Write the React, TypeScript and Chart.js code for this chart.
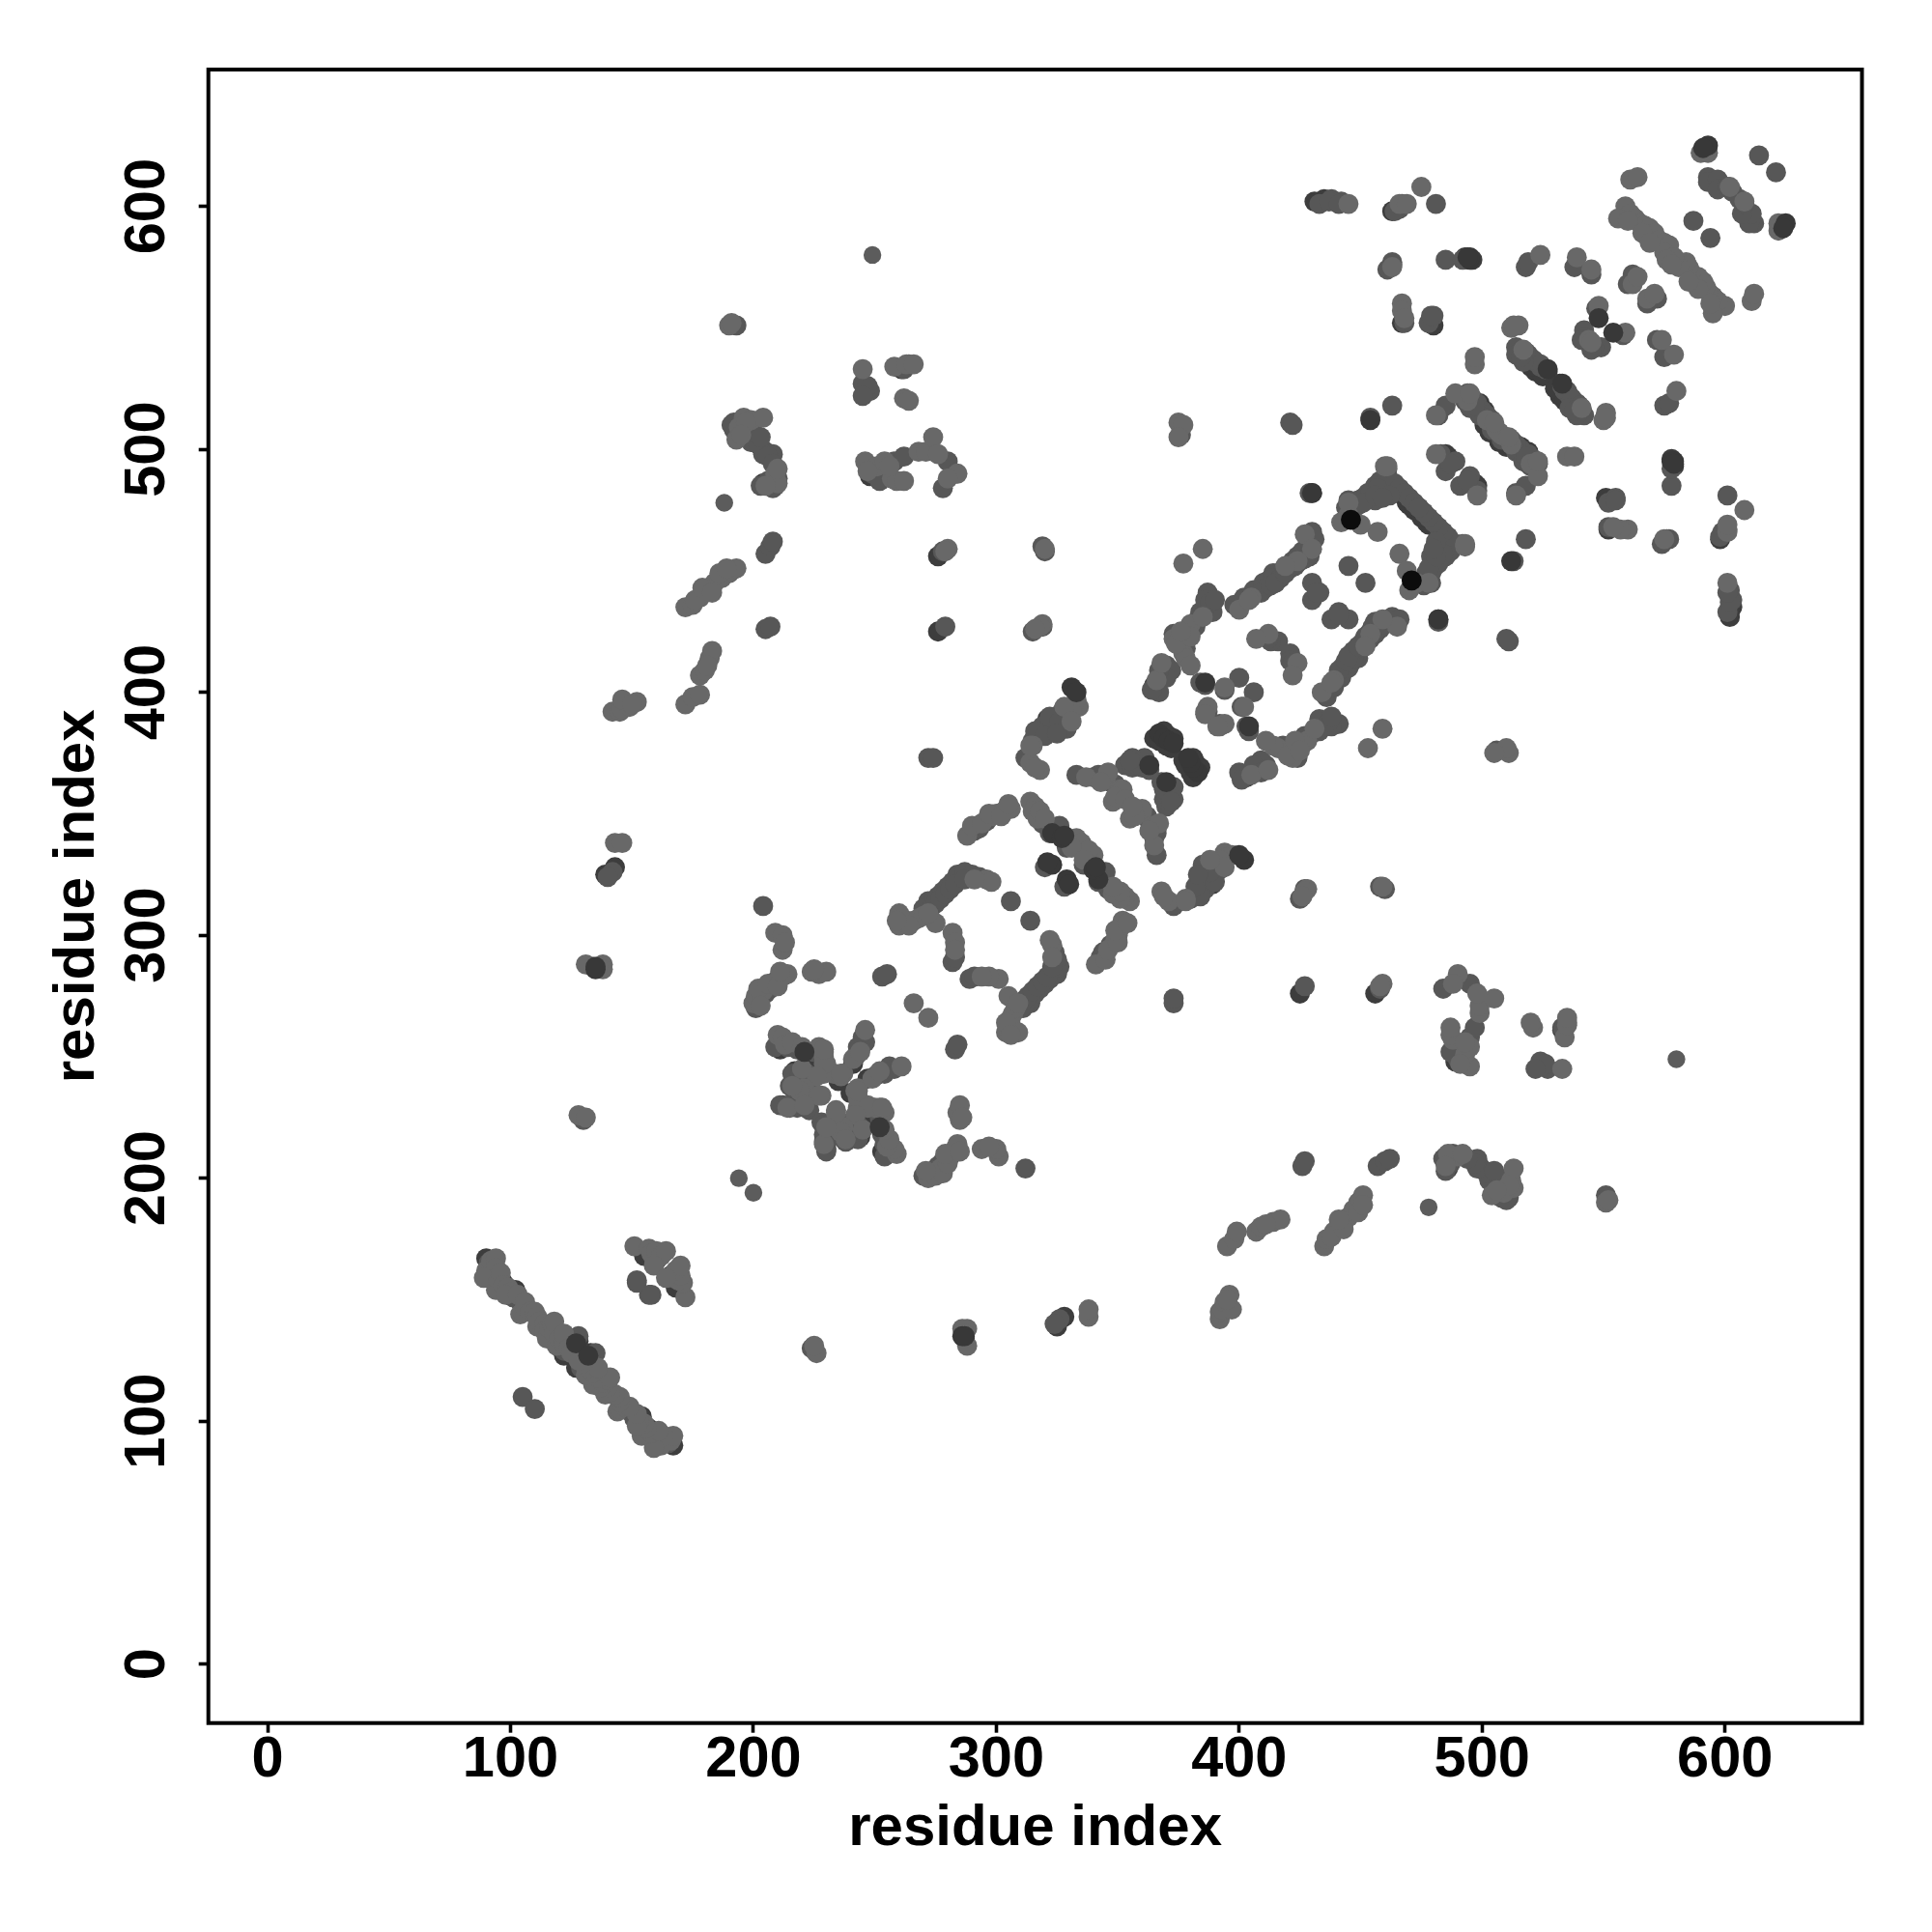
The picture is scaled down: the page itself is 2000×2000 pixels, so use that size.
import React, { useEffect, useRef } from "react";
import { Chart, registerables } from "chart.js";

Chart.register(...registerables);

const tickValues = [0, 100, 200, 300, 400, 500, 600];
const axisTitle = "residue index";

// Residue contacts [i, j]; the map is symmetric.
const darkBelow: number[][] = [
  [90,167],[122,127],[105,148],[102,154],[97,157],[128,133],[155,168],[160,166],[160,167],
  [223,248],[212,230],[222,234],[241,247],[235,240],[217,244],[211,253],[134,287],[143,328],[139,325],
  [204,486],[200,503],[203,501],[246,526],[248,489],[261,533],[276,425],[276,456],[365,403],[368,406],
  [321,389],[324,387],[327,385],[431,602],[435,603],[463,598],[463,576],[493,579],[496,578],[467,552],[480,551],
  [526,533],[527,532],[526,532],[499,519],[501,516],[485,498],[486,497],[494,519],[498,516],[501,510],[503,507],
  [462,485],[465,483],[469,478],[470,477],[472,475],[468,481],[466,482],[522,532],[525,530],[520,534],
  [365,381],[367,380],[369,384],[371,382],[373,381],[372,377],[370,378]
];

const mid: number[][] = [
  [91,165],[93,160],[101,151],[104,149],[105,110],[122,129],[128,135],[125,133],[157,152],[152,158],[159,167],
  [130,224],[142,326],[140,324],[193,551],[192,511],[195,509],[198,506],[201,504],[205,499],[208,498],[207,485],[210,488],[205,457],[207,460],[208,462],
  [196,505],[199,503],[202,502],[204,498],[206,497],[200,507],[203,505],[208,494],[192,508],[191,510],[206,487],[208,484],[203,485],[209,485],
  [201,270],[203,274],[205,276],[207,278],[209,281],[209,254],[214,254],[218,253],[225,252],[229,248],[246,256],
  [215,238],[216,243],[219,242],[222,243],[223,240],[215,230],[218,229],[211,230],[223,228],[217,236],[220,241],[219,232],[229,222],[215,229],
  [243,254],[245,258],[242,250],[253,283],[255,284],[245,527],[248,524],[247,526],[254,489],[258,495],[262,497],[278,484],[278,458],[279,427],[315,425],[319,460],[249,490],[252,487],
  [245,522],[272,314],[274,314],[276,316],[278,318],[280,320],[282,322],[284,325],[287,326],[290,325],[293,324],[263,306],[270,311],[282,289],[283,291],[306,314],
  [273,311],[275,313],[277,315],[279,317],[281,319],[283,321],[287,323],
  [291,343],[293,344],[296,347],[315,380],[318,383],[319,386],[321,385],[325,390],[327,392],[329,385],[333,366],[340,365],[342,366],[344,366],[349,362],[347,363],[319,346],[322,342],[329,336],[320,328],
  [316,384],[320,382],[322,390],[326,388],[325,383],[324,343],[326,345],[312,373],
  [353,370],[356,369],[358,370],[360,369],[361,373],[363,368],[356,373],[355,372],
  [376,506],[376,510],[421,511],[422,510],[365,402],[370,411],[372,409],[373,424],[378,418],[382,427],[384,433],[389,433],[387,441],[386,435],[367,400],[370,406],[386,403],[384,404],[394,401],[387,392],[400,406],
  [364,401],[367,409],[383,430],[386,438],[388,437],[390,438],
  [398,436],[402,439],[406,442],[410,445],[412,446],[414,449],[416,449],[418,450],[420,452],[422,454],[424,456],[426,458],[428,459],[431,463],[411,443],[414,447],[416,421],[413,421],[412,422],[430,466],
  [409,441],[413,444],[417,447],[421,451],[425,454],[429,456],[415,445],[419,449],[423,452],[427,455],
  [430,445],[433,441],[430,438],[432,441],[430,482],[445,452],[445,479],[447,478],[449,479],[451,480],[453,482],[455,483],[456,485],[458,487],[461,492],[461,489],[462,487],[464,486],[466,484],[468,482],[470,480],[472,478],[474,476],[476,474],[456,479],[454,513],[463,518],[429,482],
  [449,477],[452,480],[454,482],[457,484],[451,478],[456,481],[462,481],[459,480],[444,476],
  [438,603],[442,602],[466,599],[481,601],[463,577],[485,578],[492,578],[518,575],[519,577],[538,575],[545,572],[593,612],[593,610],[597,611],[597,607],[601,608],[603,606],[587,594],[614,621],
  [482,514],[485,518],[494,523],[496,521],[498,519],[500,516],[502,514],[504,512],[483,498],[489,495],[485,491],[487,494],[514,542],[517,540],[519,539],[522,536],[524,534],[526,533],[524,535],[521,537],[518,540],[480,555],[478,552],[479,555],[542,549],[547,558],[542,546],[541,545],
  [504,508],[501,513],[499,514],[495,517],[493,520],[497,518],[514,539],[517,536],[516,538],
  [562,570],[562,572],[560,568],[205,426],[207,427],[272,373],[274,373],[204,312],[264,535],[262,533],[280,495],[283,490],[320,458],[319,427],[433,601],[467,601],[464,598],[437,602],[441,601],[468,552],[461,574]
];

const light: number[][] = [
  [90,162],[92,166],[94,167],[94,163],[89,159],[94,154],[95,158],[96,161],[97,156],[99,155],[100,153],[98,152],[103,152],[104,144],[105,145],[106,147],[106,149],[108,145],[110,144],[110,145],[111,143],[111,139],[112,141],[114,140],[114,137],[115,134],[116,138],[117,140],[118,136],[118,141],[119,131],[120,134],[122,132],[122,136],[124,130],[126,129],[125,128],
  [151,172],[157,171],[158,169],[160,170],[162,168],[164,170],[159,164],[128,226],[131,225],[131,288],[138,288],[138,286],[136,287],[143,338],[146,338],
  [142,392],[145,392],[146,393],[149,394],[152,396],[146,397],[150,395],[172,395],[175,398],[178,399],[178,407],[180,409],[182,414],[183,417],[181,411],
  [172,435],[175,436],[178,439],[180,441],[182,443],[184,445],[187,447],[190,449],[191,450],[193,451],[190,551],[191,552],[176,438],[179,443],[183,441],[186,449],[189,451],
  [193,504],[196,513],[199,512],[204,513],[194,509],[209,490],[210,486],[205,485],[197,511],[195,506],[210,492],
  [209,301],[212,300],[212,294],[213,297],[200,272],[201,275],[204,277],[212,283],[214,284],[208,280],[202,278],[206,280],[210,279],[203,271],[211,285],
  [210,259],[212,258],[213,255],[216,256],[220,254],[227,254],[229,252],[229,250],[230,247],[229,243],[233,243],[236,242],[237,243],[228,234],[236,243],[229,247],[229,253],[226,242],[220,245],[221,237],[227,234],[219,236],[214,229],[221,230],[216,238],
  [241,249],[244,252],[246,261],[224,285],[227,284],[230,285],[225,286],[266,272],
  [245,533],[258,534],[263,535],[266,535],[262,521],[264,520],[246,495],[251,493],[254,495],[257,488],[259,487],[262,487],[268,499],[271,499],[274,505],[276,498],[284,490],[280,488],[256,493],[247,491],
  [280,459],[279,458],[319,428],[318,427],[320,459],[316,426],
  [260,304],[261,307],[266,306],[268,307],[260,309],[296,323],[298,322],[275,305],[282,301],[283,297],[283,294],[270,308],[272,309],[291,323],[264,304],[259,306],
  [288,341],[298,349],[300,350],[303,351],[306,352],[314,355],[316,353],[315,351],[317,348],[331,339],[333,340],[335,338],[331,336],[318,368],[314,371],[316,369],[290,345],[294,346],[297,350],[302,349],[305,354],[318,351],[320,348],
  [315,378],[334,394],[333,397],[332,395],[331,392],[345,364],[346,367],[351,360],[348,355],[350,358],[352,360],[314,378],[328,394],[331,388],[337,365],[343,363],[349,357],[353,356],
  [375,511],[377,510],[375,505],[377,453],[385,459],[373,422],[379,424],[380,428],[385,431],[377,416],[378,414],[380,411],[386,392],[387,394],[386,391],[394,402],[412,424],[407,422],[374,420],[380,423],[376,425],[366,405],[368,412],
  [427,465],[430,459],[445,473],[457,466],[450,469],[442,470],[445,478],[460,493],[461,493],[424,454],[419,452],[400,434],[405,439],[404,438],
  [445,601],[466,601],[475,608],[469,601],[524,580],[539,579],[545,574],[561,611],[564,612],[590,622],[593,622],[602,608],[463,575],
  [559,600],[561,597],[563,595],[565,593],[567,592],[569,591],[571,589],[573,586],[575,585],[577,584],[575,581],[579,579],[556,595],[560,594],[566,589],[569,585],[576,578],
  [515,551],[512,550],[513,551],[517,541],[494,520],[505,510],[506,508],[507,507],[489,523],[481,514],[495,523],[497,535],[497,538],
  [467,560],[467,557],[468,554],[562,568],[564,571],[502,512],[505,511],[481,498],[548,559],[544,545]
];

const darkTop: number[][] = [
  [221,252],[331,402],[333,400],[323,342],[327,340],[328,341],[323,329],[321,330],[367,383],[369,381],[371,380],[373,379],[363,370],
  [386,404],[548,554],[495,578],[495,579],[494,579],[454,512],
  [593,625],[591,624],[430,482],[527,533],[135,286],[135,287],[127,132]
];

const black: number[][] = [[446,471]];

// Isolated dots that are a little smaller than the others.
const smallDots: number[][] = [[249,580],[194,200],[188,478]];

const shades = ["#3d3d3d", "#575757", "#686868", "#383838", "#0c0c0c", "#5c5c5c"];
const radii = [10.4, 10.4, 10.4, 10.4, 10.4, 9.2];
const groups = [darkBelow, mid, light, darkTop, black, smallDots];

const mirrored = (pairs: number[][]) =>
  pairs.flatMap(([i, j]) => [{ x: i, y: j }, { x: j, y: i }]);

export default function App() {
  const ref = useRef<HTMLCanvasElement | null>(null);
  useEffect(() => {
    if (!ref.current) return;
    const font = "'Liberation Sans'";
    const box = {
      id: "box",
      afterDraw(c: any) {
        const { left, top, right, bottom } = c.chartArea;
        const g = c.ctx;
        g.save();
        g.strokeStyle = "#000";
        g.lineWidth = 4;
        g.strokeRect(left, top, right - left, bottom - top);
        g.restore();
      },
    };
    const scaleBase = {
      type: "linear",
      afterBuildTicks(s: any) {
        s.ticks = tickValues.map((value) => ({ value }));
      },
      grid: { display: true, drawOnChartArea: false, drawTicks: true, tickLength: 10, tickWidth: 3.6, tickColor: "#000" },
      border: { display: false },
    };
    const chart = new Chart(ref.current, {
      type: "scatter",
      data: {
        datasets: groups.map((pairs, k) => ({
          data: mirrored(pairs),
          backgroundColor: shades[k],
          borderWidth: 0,
          pointRadius: radii[k],
          order: groups.length - k,
        })),
      },
      options: {
        animation: false,
        responsive: false,
        layout: { padding: { left: 0, top: 72, right: 72.5, bottom: 0 } },
        plugins: { legend: { display: false }, tooltip: { enabled: false } },
        scales: {
          x: {
            ...scaleBase,
            min: -24.4,
            max: 656.4,
            afterFit(s: any) { s.height = 216.3; },
            ticks: { autoSkip: false, maxRotation: 0, minRotation: 0, color: "#000", padding: -7, font: { family: font, weight: "bold", size: 59.5 } },
            title: { display: true, text: axisTitle, color: "#000", padding: { top: 0, bottom: 71 }, font: { family: font, weight: "bold", size: 60 } },
          },
          y: {
            ...scaleBase,
            min: -24.25,
            max: 656.3,
            afterFit(s: any) { s.width = 215.7; },
            ticks: { autoSkip: false, maxRotation: 90, minRotation: 90, crossAlign: "center", color: "#000", padding: 2.5, font: { family: font, weight: "bold", size: 59.5 } },
            title: { display: true, text: axisTitle, color: "#000", padding: { top: 44, bottom: 0 }, font: { family: font, weight: "bold", size: 60 } },
          },
        },
      },
      plugins: [box],
    } as any);
    return () => chart.destroy();
  }, []);
  return (
    <div style={{ position: "absolute", left: 0, top: 0, width: 2000, height: 2000, background: "#fff" }}>
      <canvas ref={ref} width={2000} height={2000} style={{ display: "block" }} />
    </div>
  );
}
